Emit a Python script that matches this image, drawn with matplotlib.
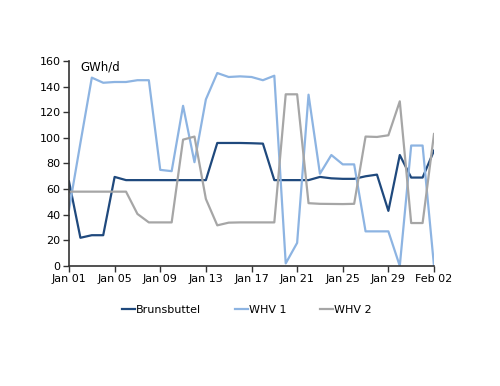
import matplotlib
matplotlib.use("Agg")
import matplotlib.pyplot as plt
import matplotlib.dates as mdates
import pandas as pd

dates = pd.date_range("2024-01-01", "2024-02-02", freq="D")

brunsbuttel = [66, 22, 24, 24, 69.5, 67, 67, 67, 67, 67, 67, 67, 67,
               96, 96, 96, 95.8, 95.5, 67, 67, 67, 67, 69.5, 68.4, 68, 68,
               70, 71.3, 43, 86.6, 69, 69, 90]
whv1 = [44, 96, 147, 143, 143.6, 143.6, 145, 145, 75, 74, 125, 81, 130,
        150.6, 147.5, 148, 147.5, 145, 148.5, 2, 18, 133.7, 72, 86.6, 79.3, 79.3,
        27, 27, 27, 0, 94, 94, 0]
whv2 = [58, 58, 58, 58, 58, 58, 40.6, 34, 34, 34, 98.6, 101, 52.3,
        31.7, 33.8, 34, 34, 34, 34, 134, 134, 49, 48.5, 48.4, 48.3, 48.5,
        101, 100.7, 102, 128.5, 33.5, 33.5, 103]

series_names = ["Brunsbuttel", "WHV 1", "WHV 2"]
colors = ["#1F497D", "#8DB4E2", "#A6A6A6"]
y_ticks = [0, 20, 40, 60, 80, 100, 120, 140, 160]
unit_label = "GWh/d"

fig = plt.figure(figsize=(5.0, 3.86), dpi=100)
ax = fig.add_axes([0.138, 0.311, 0.730, 0.531])

for vals, name, c in zip([brunsbuttel, whv1, whv2], series_names, colors):
    ax.plot(dates, vals, color=c, lw=1.6, label=name)

ax.set_xlim(dates[0], dates[-1])
ax.set_ylim(0, 160)
ax.set_yticks(y_ticks)
ax.set_xticks(dates[::4])
ax.xaxis.set_major_formatter(mdates.DateFormatter("%b %d"))

for s in ["top", "right"]:
    ax.spines[s].set_visible(False)
for s in ["left", "bottom"]:
    ax.spines[s].set_color("#333333")
    ax.spines[s].set_linewidth(1.2)
ax.tick_params(axis="both", labelsize=8, color="#333333", length=4, width=1, direction="out", pad=2)

ax.text(0.03, 1.0, unit_label, transform=ax.transAxes, fontsize=8.5, va="top", ha="left")

fig.legend(loc="center", bbox_to_anchor=(0.494, 0.197), ncol=3, frameon=False,
           fontsize=8, handlelength=1.2, handletextpad=0.1, columnspacing=3.0)

fig.savefig("out.png", dpi=100)
